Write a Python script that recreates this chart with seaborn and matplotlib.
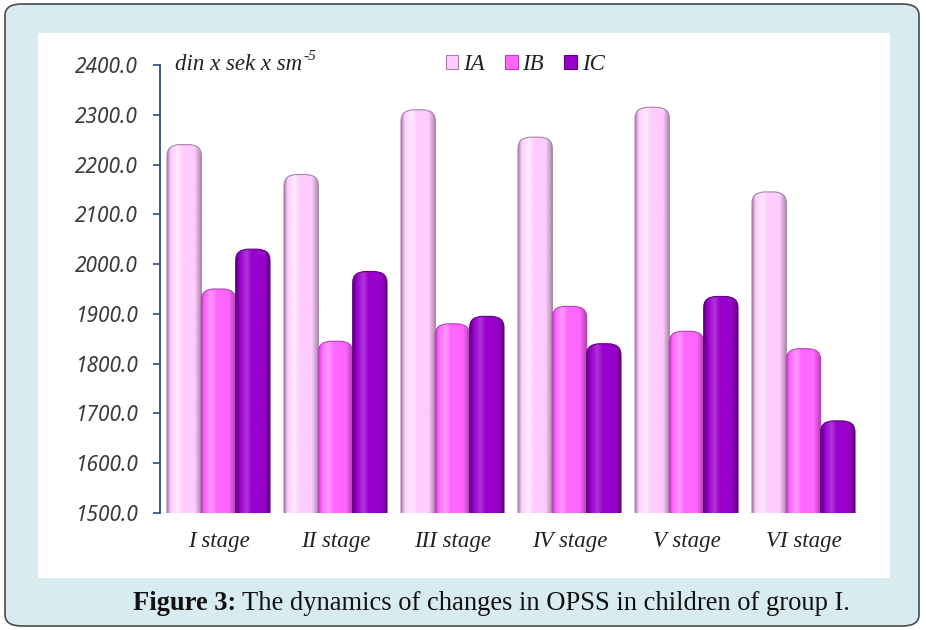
import matplotlib
matplotlib.use("Agg")
import matplotlib.pyplot as plt
import seaborn as sns
import pandas as pd
import numpy as np
from matplotlib.patches import FancyBboxPatch, Rectangle
from matplotlib.colors import LinearSegmentedColormap, to_rgb
from matplotlib import font_manager as fm

categories = ["I stage", "II stage", "III stage", "IV stage", "V stage", "VI stage"]
series_names = ["IA", "IB", "IC"]
ia_values = [2240, 2180, 2310, 2255, 2315, 2145]
ib_values = [1950, 1845, 1880, 1915, 1865, 1830]
ic_values = [2030, 1985, 1895, 1840, 1935, 1685]
y_ticks = [1500, 1600, 1700, 1800, 1900, 2000, 2100, 2200, 2300, 2400]

colors = {"IA": "#ffccff", "IB": "#ff66ff", "IC": "#9900cc"}
edges = {"IA": "#a783a7", "IB": "#b53fb5", "IC": "#5e0080"}
lights = {"IA": "#ffeaff", "IB": "#ff99ff", "IC": "#b233dd"}

rows = []
for s, vals in zip(series_names, [ia_values, ib_values, ic_values]):
    for c, v in zip(categories, vals):
        rows.append({"stage": c, "group": s, "value": v})
df = pd.DataFrame(rows)


def fp(family, style="normal", weight="normal", size=16):
    path = fm.findfont(fm.FontProperties(family=family, style=style, weight=weight),
                       fallback_to_default=True)
    return fm.FontProperties(fname=path, size=size)


sns.set_theme(style="white")

fig = plt.figure(figsize=(9.26, 6.30), dpi=100)
fig.patch.set_facecolor("white")
frame = FancyBboxPatch((5 / 926, 4 / 630), 914 / 926, 622 / 630,
                       boxstyle="round,pad=0,rounding_size=0.018",
                       transform=fig.transFigure, facecolor="#d7ebf1",
                       edgecolor="#4a4a4a", linewidth=1.2, zorder=-3)
fig.patches.append(frame)
panel = Rectangle((38 / 926, 1 - 578 / 630), (890 - 38) / 926, (578 - 33) / 630,
                  transform=fig.transFigure, facecolor="white", edgecolor="none", zorder=-2)
fig.patches.append(panel)

ax = fig.add_axes([160 / 926, 1 - 513 / 630, (862 - 160) / 926, (513 - 65) / 630])
ax.set_facecolor("none")

sns.barplot(data=df, x="stage", y="value", hue="group", order=categories,
            hue_order=series_names, palette=colors, width=0.88, ax=ax,
            legend=True, errorbar=None, saturation=1)

ax.set_ylim(1500, 2400)
ax.set_xlim(-0.5, 5.5)

p0 = ax.transData.transform((0, 1500))
p1 = ax.transData.transform((1, 1600))
px_x = p1[0] - p0[0]
px_y = (p1[1] - p0[1]) / 100.0
r_x = 13.0 / px_x
aspect = (11.0 / px_y) / r_x

for cont, s in zip(ax.containers, series_names):
    base = np.array(to_rgb(colors[s]))
    edge = np.array(to_rgb(edges[s]))
    light = np.array(to_rgb(lights[s]))
    cmap = LinearSegmentedColormap.from_list(
        s, [(0.0, edge), (0.1, base), (0.3, light), (0.45, base), (0.8, base), (1.0, edge)])
    grad = np.linspace(0, 1, 64).reshape(1, -1)
    for p in cont:
        x0, w = p.get_x(), p.get_width()
        y0, h = p.get_y(), p.get_height()
        p.set_visible(False)
        fb = FancyBboxPatch((x0, y0), w, h, boxstyle=f"round,pad=0,rounding_size={r_x}",
                            mutation_aspect=aspect, facecolor="none", edgecolor=edge,
                            linewidth=0.8, zorder=3, transform=ax.transData)
        ax.add_patch(fb)
        im = ax.imshow(grad, extent=[x0, x0 + w, y0, y0 + h], cmap=cmap, aspect="auto",
                       zorder=2, interpolation="bilinear")
        im.set_clip_path(fb)

ax.set_ylim(1500, 2400)
ax.set_xlim(-0.5, 5.5)
ax.set_aspect("auto")

tick_fp = fp("Noto Sans", style="italic", size=15)
serif_it = fp("Liberation Serif", style="italic", size=16.5)
ax.set_yticks(y_ticks)
ax.set_yticklabels([f"{v:.1f}" for v in y_ticks], fontproperties=tick_fp, color="#3a3a3a")
ax.set_xticks(range(len(categories)))
ax.set_xticklabels(categories, fontproperties=serif_it, color="#222222")
ax.set_xlabel("")
ax.set_ylabel("")
for side in ["top", "right", "bottom"]:
    ax.spines[side].set_visible(False)
ax.spines["left"].set_color("#2b4a86")
ax.spines["left"].set_linewidth(1.3)
ax.tick_params(axis="y", which="major", left=True, length=5, width=1.2, color="#2b4a86", pad=11)
ax.tick_params(axis="x", length=0, pad=13)

u = ax.text(0.022, 1.0, "din x sek x sm", transform=ax.transAxes,
            ha="left", va="center", fontproperties=serif_it, color="#222222")
fig.canvas.draw()
ub = u.get_window_extent()
fig.text((ub.x1 + 1) / fig.bbox.width, (ub.y1 - 2) / fig.bbox.height, "-5",
         ha="left", va="center", fontproperties=fp("Liberation Serif", style="italic", size=11),
         color="#222222")

handles, labels = ax.get_legend_handles_labels()
leg = ax.legend(handles, labels, loc="center", bbox_to_anchor=(0.52, 1.0), ncol=3, frameon=False,
                handlelength=0.55, handleheight=0.55, handletextpad=0.2, columnspacing=0.9,
                prop=serif_it)
for h, s in zip(leg.legend_handles, series_names):
    h.set_edgecolor(edges[s])
    h.set_linewidth(0.8)
for t in leg.get_texts():
    t.set_color("#222222")

cap_y = 1 - 603 / 630
target_w = 853 - 133
cap_fs = 17.0
for _ in range(3):
    bold_fp = fp("Liberation Serif", weight="bold", size=cap_fs)
    reg_fp = fp("Liberation Serif", size=cap_fs)
    t1 = fig.text(133 / 926, cap_y, "Figure 3:", ha="left", va="center",
                  fontproperties=bold_fp, color="#111111")
    fig.canvas.draw()
    bb = t1.get_window_extent()
    t2 = fig.text((bb.x1 + 6) / fig.bbox.width, cap_y,
                  "The dynamics of changes in OPSS in children of group I.", ha="left",
                  va="center", fontproperties=reg_fp, color="#111111")
    fig.canvas.draw()
    w = t2.get_window_extent().x1 - bb.x0
    if abs(w - target_w) < 3:
        break
    cap_fs *= target_w / w
    t1.remove()
    t2.remove()

fig.savefig("out.png", dpi=100)
